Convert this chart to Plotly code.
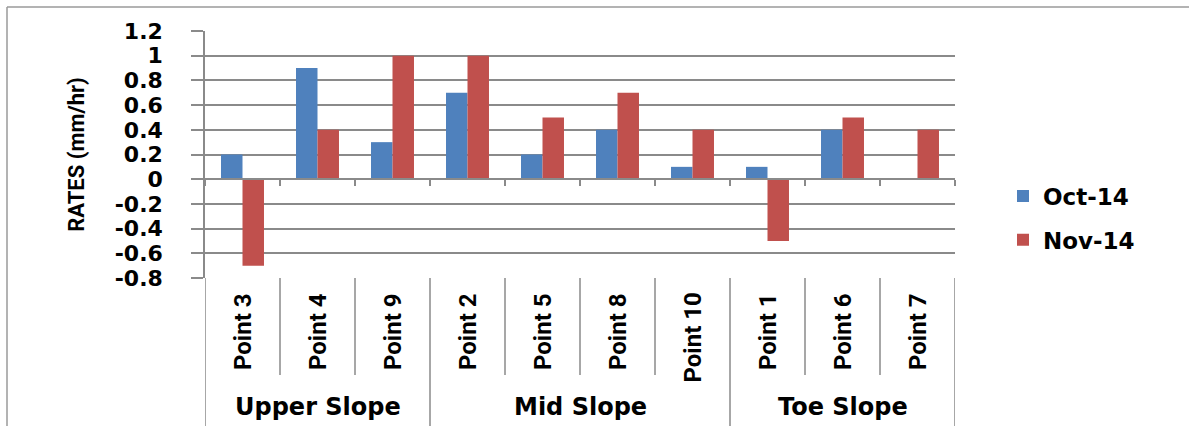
import plotly.graph_objects as go

# Infiltration rates per sampling point, grouped by slope position
points = ["Point 3", "Point 4", "Point 9", "Point 2", "Point 5",
          "Point 8", "Point 10", "Point 1", "Point 6", "Point 7"]
groups = ["Upper Slope", "Mid Slope", "Toe Slope"]
group_sizes = [3, 4, 3]
oct_14 = [0.2, 0.9, 0.3, 0.7, 0.2, 0.4, 0.1, 0.1, 0.4, 0.0]
nov_14 = [-0.7, 0.4, 1.0, 1.0, 0.5, 0.7, 0.4, -0.5, 0.5, 0.4]
y_tick_vals = [1.2, 1.0, 0.8, 0.6, 0.4, 0.2, 0.0, -0.2, -0.4, -0.6, -0.8]
y_tick_text = ["1.2", "1", "0.8", "0.6", "0.4", "0.2", "0", "-0.2", "-0.4", "-0.6", "-0.8"]

W, H = 1189, 426
ML, MR, MT, MB = 205, 234, 31, 148
PW, PH = W - ML - MR, H - MT - MB

GRID = "#8a8a8a"
FRAME = "#9a9a9a"
WIDE = "DejaVu Sans"
NARROW = "Roboto"

y_min, y_max = y_tick_vals[-1], y_tick_vals[0]


def px_x(p):
    return (p - ML) / PW


def px_y(p):
    return (H - MB - p) / PH


fig = go.Figure()
fig.add_trace(go.Bar(x=points, y=oct_14, name="Oct-14", marker_color="#4F81BD",
                     marker_line_width=0, legendgroup="a"))
fig.add_trace(go.Bar(x=points, y=nov_14, name="Nov-14", marker_color="#C0504D",
                     marker_line_width=0, legendgroup="b"))

shapes = []
annotations = []

# separators below the plot: short between points, long between slope groups
boundaries = {0}
acc = 0
for n in group_sizes:
    acc += n
    boundaries.add(acc)
for i in range(len(points) + 1):
    long_line = i in boundaries
    shapes.append(dict(type="line", xref="x", yref="paper",
                       x0=i - 0.5, x1=i - 0.5, y0=0,
                       y1=px_y(H + 2) if long_line else px_y(375),
                       line=dict(color=GRID, width=1.5)))

# rotated point labels
for p in points:
    annotations.append(dict(xref="x", yref="paper", x=p, y=px_y(291),
                            text=p, textangle=-90, showarrow=False,
                            xanchor="center", yanchor="top",
                            font=dict(family=NARROW, size=24, color="black", weight="bold")))

# slope group labels
start = 0
for g, n in zip(groups, group_sizes):
    annotations.append(dict(xref="x", yref="paper", x=start + (n - 1) / 2, y=px_y(407),
                            text=g, showarrow=False, xanchor="center", yanchor="middle",
                            font=dict(family=WIDE, size=24, color="black", weight="bold")))
    start += n

# chart-area frame (left and top edges)
shapes.append(dict(type="line", xref="paper", yref="paper",
                   x0=px_x(7), x1=px_x(7), y0=px_y(7), y1=px_y(H + 2),
                   line=dict(color=FRAME, width=1.5)))
shapes.append(dict(type="line", xref="paper", yref="paper",
                   x0=px_x(7), x1=px_x(W + 2), y0=px_y(7), y1=px_y(7),
                   line=dict(color=FRAME, width=1.5)))

fig.update_layout(
    width=W, height=H,
    margin=dict(l=ML, r=MR, t=MT, b=MB, autoexpand=False),
    paper_bgcolor="white", plot_bgcolor="white",
    barmode="group", bargap=0.427, bargroupgap=0,
    shapes=shapes, annotations=annotations,
    showlegend=True,
    legend=dict(x=px_x(1003), y=px_y(218), xanchor="left", yanchor="middle",
                font=dict(family=WIDE, size=23, color="black", weight="bold"),
                tracegroupgap=11, bgcolor="rgba(0,0,0,0)"),
    xaxis=dict(type="category", anchor="free", position=(0 - y_min) / (y_max - y_min),
               showline=True, linecolor=GRID, linewidth=1.5,
               ticks="outside", ticklen=6, tickwidth=1.5, tickcolor=GRID,
               tickson="boundaries", showticklabels=False, showgrid=False,
               range=[-0.5, len(points) - 0.5], fixedrange=True),
    yaxis=dict(range=[y_min, y_max], tickvals=y_tick_vals, ticktext=y_tick_text,
               showgrid=True, gridcolor=GRID, gridwidth=1.5, zeroline=False,
               showline=True, linecolor=GRID, linewidth=1.5,
               ticks="outside", ticklen=12, tickwidth=1.5, tickcolor=GRID,
               ticklabelstandoff=24,
               tickfont=dict(family=WIDE, size=22, color="black", weight="bold"),
               title=dict(text="RATES (mm/hr)", standoff=24,
                          font=dict(family=NARROW, size=22, color="black", weight="bold")),
               fixedrange=True),
)

fig.write_html("out.html")
